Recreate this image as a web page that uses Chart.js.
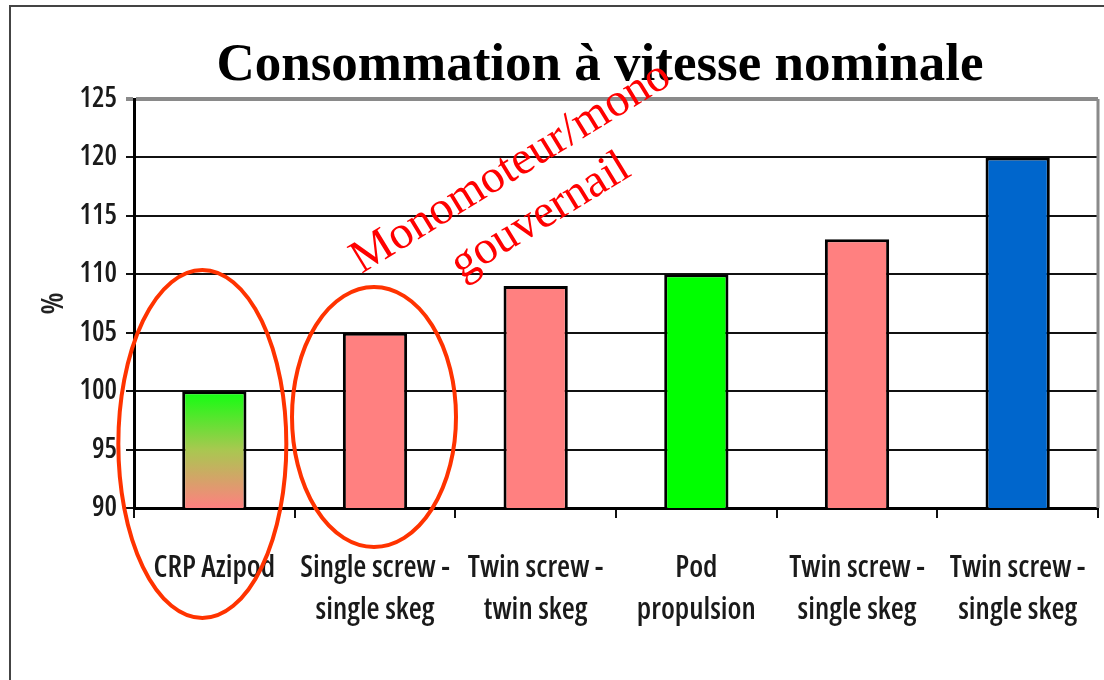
<!DOCTYPE html>
<html lang="fr">
<head>
<meta charset="utf-8">
<title>Consommation à vitesse nominale</title>
<script src="https://cdn.jsdelivr.net/npm/chart.js@4.4.1/dist/chart.umd.min.js"></script>
<style>
    body { margin: 0; background: #fff; }
    #wrap { width: 1104px; height: 680px; position: relative; }
</style>
</head>
<body>
<div id="wrap"><canvas id="consoChart"></canvas></div>
<script>
const categories = [
    'CRP Azipod',
    ['Single screw -', 'single skeg'],
    ['Twin screw -', 'twin skeg'],
    ['Pod', 'propulsion'],
    ['Twin screw -', 'single skeg'],
    ['Twin screw -', 'single skeg']
];
const consommation = [100, 105, 109, 110, 113, 120];
const barColors = ['gradient', '#ff8080', '#ff8080', '#00ff00', '#ff8080', '#0066cc'];
const yTicks = [90, 95, 100, 105, 110, 115, 120, 125];

// "condensed" goes into the font shorthand through the weight slot
const narrowFamily = "'Open Sans', 'DejaVu Sans Condensed', sans-serif";
const tickFont = { family: narrowFamily, weight: '600 condensed', size: 30, lineHeight: 1.4 };

// first bar fades from green at the top to pink at the axis
function barFill(context) {
    const color = barColors[context.dataIndex];
    if (color !== 'gradient') return color;
    const chart = context.chart;
    if (!chart.chartArea) return '#ff8080';
    const y = chart.scales.y;
    const g = chart.ctx.createLinearGradient(0, y.getPixelForValue(consommation[context.dataIndex]), 0, y.getPixelForValue(yTicks[0]));
    g.addColorStop(0, '#10ff10');
    g.addColorStop(0.5, '#a8c850');
    g.addColorStop(1, '#ff8080');
    return g;
}

// frame, title, right border, circled bars and the red note
const annotations = {
    id: 'annotations',
    afterDraw(chart) {
        const ctx = chart.ctx;
        const x = chart.scales.x;
        const area = chart.chartArea;
        ctx.save();

        ctx.strokeStyle = '#444';
        ctx.lineWidth = 2;
        ctx.beginPath();
        ctx.moveTo(10, 680);
        ctx.lineTo(10, 6);
        ctx.lineTo(1104, 6);
        ctx.stroke();

        ctx.strokeStyle = '#8a8a8a';
        ctx.lineWidth = 3;
        ctx.beginPath();
        ctx.moveTo(area.right, area.top);
        ctx.lineTo(area.right, area.bottom);
        ctx.stroke();

        ctx.fillStyle = '#000';
        ctx.font = "bold 53px 'Liberation Serif', 'Times New Roman', serif";
        ctx.textAlign = 'center';
        ctx.textBaseline = 'alphabetic';
        ctx.fillText('Consommation à vitesse nominale', 600, 80);

        ctx.strokeStyle = '#ff3300';
        ctx.lineWidth = 4;
        ctx.beginPath();
        ctx.ellipse(x.getPixelForValue(0) - 12, area.bottom - 64, 84, 174, 0, 0, Math.PI * 2);
        ctx.stroke();
        ctx.beginPath();
        ctx.ellipse(x.getPixelForValue(1) - 1, area.bottom - 91, 82, 130, 0, 0, Math.PI * 2);
        ctx.stroke();

        ctx.translate(511, 168);
        ctx.rotate(-31.5 * Math.PI / 180);
        ctx.fillStyle = '#ff0000';
        ctx.font = "47px 'Liberation Serif', 'Times New Roman', serif";
        ctx.textBaseline = 'middle';
        ctx.fillText('Monomoteur/mono', 0, 0);
        ctx.fillText('gouvernail', 0, 57);
        ctx.restore();
    }
};

const config = {
    type: 'bar',
    data: {
        labels: categories,
        datasets: [{
            data: consommation,
            backgroundColor: barFill,
            borderColor: '#000',
            borderWidth: 3,
            borderSkipped: false,
            barPercentage: 0.4,
            categoryPercentage: 1
        }]
    },
    options: {
        responsive: true,
        maintainAspectRatio: false,
        animation: false,
        layout: { padding: { top: 99, right: 6, bottom: 0, left: 0 } },
        plugins: {
            legend: { display: false },
            tooltip: { enabled: false }
        },
        scales: {
            x: {
                afterFit(scale) {
                    scale.height = 172;
                    scale.paddingLeft = 0;
                    scale.paddingRight = 0;
                },
                grid: { drawOnChartArea: false, color: '#111', lineWidth: 2, tickLength: 10 },
                border: { color: '#000', width: 3 },
                ticks: { color: '#1a1a1a', font: tickFont, padding: 29, maxRotation: 0, autoSkip: false }
            },
            y: {
                min: yTicks[0],
                max: yTicks[yTicks.length - 1],
                afterFit(scale) { scale.width = 134; },
                afterBuildTicks(scale) { scale.ticks = yTicks.map(v => ({ value: v })); },
                grid: {
                    color: c => c.tick && c.tick.value === 125 ? '#8a8a8a' : '#111',
                    lineWidth: c => c.tick && c.tick.value === 125 ? 4 : 2,
                    tickLength: 8
                },
                border: { color: '#000', width: 3 },
                ticks: { color: '#1a1a1a', font: { family: narrowFamily, weight: '600 condensed', size: 28 }, padding: 9 },
                title: {
                    display: true,
                    text: '%',
                    color: '#222',
                    font: { family: narrowFamily, weight: '600 condensed', size: 31, lineHeight: 1.2 },
                    padding: { top: 36, bottom: 0 }
                }
            }
        }
    },
    plugins: [annotations]
};

const ctx = document.getElementById('consoChart').getContext('2d');
new Chart(ctx, config);
</script>
</body>
</html>
